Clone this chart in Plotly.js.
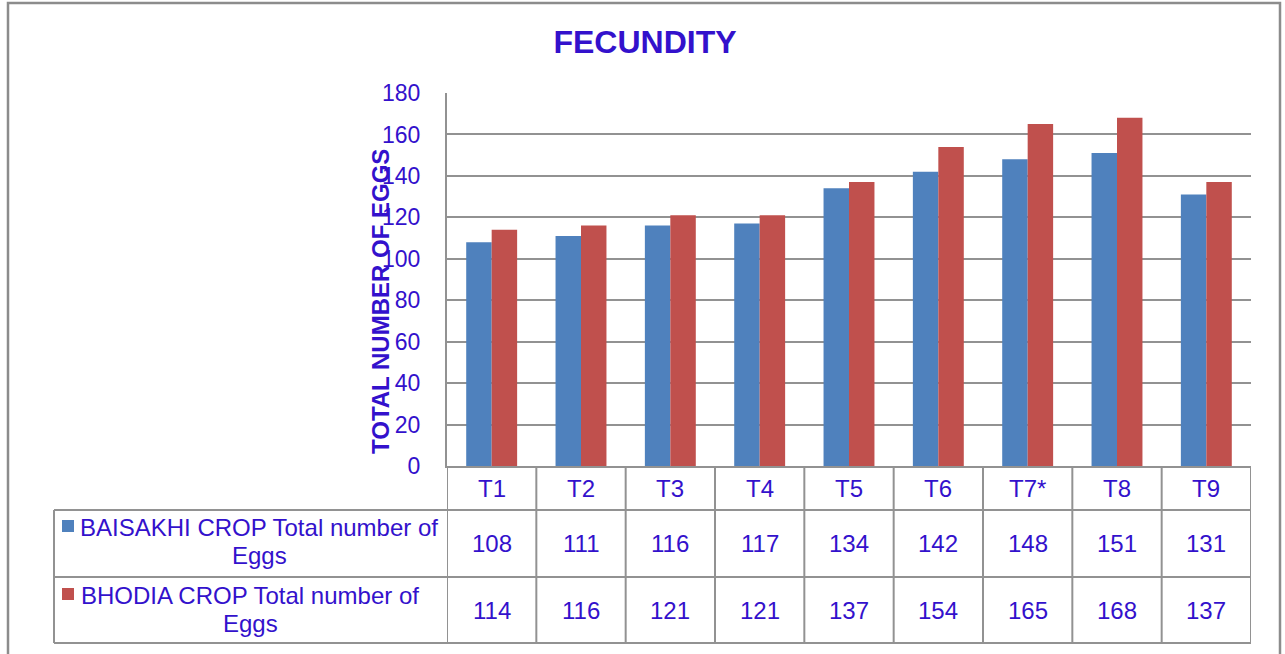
<!DOCTYPE html>
<html>
<head>
<meta charset="utf-8">
<script src="https://cdn.plot.ly/plotly-3.0.1.min.js"></script>
<style>html,body{margin:0;padding:0;background:#fff;}#chart{width:1285px;height:654px;}</style>
</head>
<body>
<div id="chart"></div>
<script>
const categories = ["T1","T2","T3","T4","T5","T6","T7*","T8","T9"];
const baisakhi = [108,111,116,117,134,142,148,151,131];
const bhodia = [114,116,121,121,137,154,165,168,137];
const seriesNames = ["BAISAKHI CROP Total number of<br>Eggs", "BHODIA CROP Total number of<br>Eggs"];
const seriesColors = ["#4F81BD", "#C0504D"];
const chartTitle = "FECUNDITY";
const yTitle = "TOTAL NUMBER OF EGGS";

const W = 1285, H = 654;
const L = 447, R = 1251, T = 93, B = 466;
const px = v => (v - L) / (R - L);
const py = v => (B - v) / (B - T);
const txt = '#3311CC';
const grid = '#929292';
const font = 'Liberation Sans, Arial, sans-serif';

const data = [
  {type:'bar', x:categories, y:baisakhi, name:seriesNames[0], marker:{color:seriesColors[0]}},
  {type:'bar', x:categories, y:bhodia, name:seriesNames[1], marker:{color:seriesColors[1]}}
];

const shapes = [];
const annotations = [];
// outer frame
shapes.push({type:'rect', xref:'paper', yref:'paper', x0:px(8), x1:px(1280), y0:py(3), y1:py(700), line:{color:'#8c8c8c', width:2.5}, fillcolor:'rgba(0,0,0,0)', layer:'below'});
// table vertical lines at category boundaries
for (let i = 0; i <= categories.length; i++) {
  shapes.push({type:'line', xref:'x', yref:'paper', x0:i-0.5, x1:i-0.5, y0:py(466), y1:py(643), line:{color:grid, width:2}});
}
// horizontal table lines
[510, 577, 643].forEach(yy => {
  shapes.push({type:'line', xref:'paper', yref:'paper', x0:px(54), x1:1, y0:py(yy), y1:py(yy), line:{color:grid, width:2}});
});
shapes.push({type:'line', xref:'paper', yref:'paper', x0:px(54), x1:px(54), y0:py(510), y1:py(643), line:{color:grid, width:2}});

// header labels
categories.forEach(c => {
  annotations.push({xref:'x', yref:'paper', x:c, y:py(488), text:c, showarrow:false, font:{family:font, size:24, color:txt}, xanchor:'center', yanchor:'middle'});
});
const rows = [baisakhi, bhodia];
const rowCenters = [543, 610];
const lineCenters = [[527, 555], [595, 623]];
const labelCenters = [[259, 259.5], [249.5, 250]];
const squareTops = [520, 588];
rows.forEach((vals, r) => {
  vals.forEach((v, i) => {
    annotations.push({xref:'x', yref:'paper', x:categories[i], y:py(rowCenters[r]), text:String(v), showarrow:false, font:{family:font, size:24, color:txt}, xanchor:'center', yanchor:'middle'});
  });
  seriesNames[r].split('<br>').forEach((part, k) => {
    annotations.push({xref:'paper', yref:'paper', x:px(labelCenters[r][k]), y:py(lineCenters[r][k]), text:part, showarrow:false, align:'center', font:{family:font, size:24, color:txt}, xanchor:'center', yanchor:'middle'});
  });
  shapes.push({type:'rect', xref:'paper', yref:'paper', x0:px(62), x1:px(74), y0:py(squareTops[r]), y1:py(squareTops[r]+12), fillcolor:seriesColors[r], line:{width:0}});
});
// y-axis title
annotations.push({xref:'paper', yref:'paper', x:px(380), y:py(302), text:'<b>'+yTitle+'</b>', textangle:-90, showarrow:false, font:{family:font, size:24, color:txt}, xanchor:'center', yanchor:'middle'});

const layout = {
  width:W, height:H,
  margin:{l:L, r:W-R, t:T, b:H-B, pad:0},
  paper_bgcolor:'#ffffff', plot_bgcolor:'#ffffff',
  title:{text:'<b>'+chartTitle+'</b>', x:645/W, xref:'container', xanchor:'center', y:1-42/H, yref:'container', yanchor:'middle', font:{family:font, size:32, color:txt}},
  showlegend:false,
  barmode:'group', bargap:0.43, bargroupgap:0,
  xaxis:{type:'category', showticklabels:false, ticks:'', showgrid:false, showline:true, linecolor:grid, linewidth:2, range:[-0.5, 8.5], fixedrange:true},
  yaxis:{range:[0,180], dtick:20, tick0:0, showgrid:true, gridcolor:grid, gridwidth:2, zeroline:false, showline:true, linecolor:grid, linewidth:2, ticks:'', ticklabelstandoff:20, tickfont:{family:font, size:23, color:txt}, fixedrange:true},
  shapes:shapes, annotations:annotations,
  font:{family:font, color:txt}
};
Plotly.newPlot('chart', data, layout, {staticPlot:true, displayModeBar:false});
</script>
</body>
</html>
